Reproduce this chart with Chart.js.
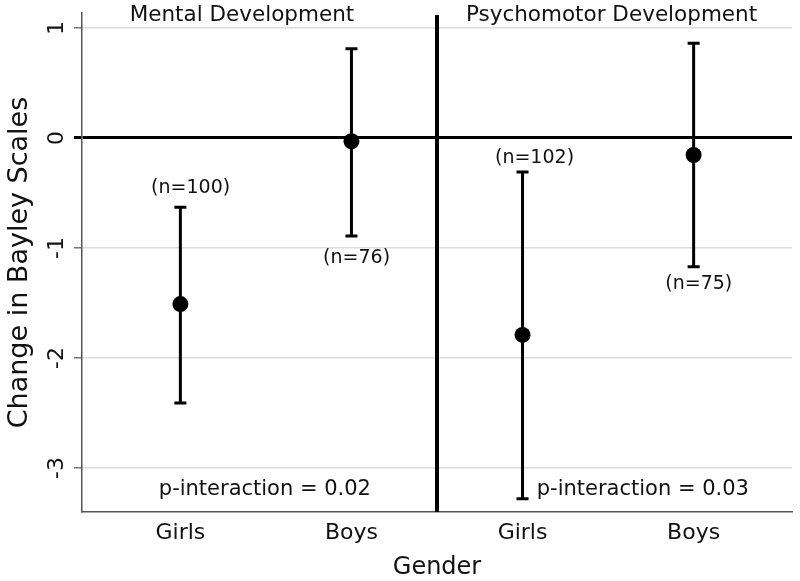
<!DOCTYPE html>
<html>
<head>
<meta charset="utf-8">
<script src="https://cdn.jsdelivr.net/npm/chart.js@4.4.1/dist/chart.umd.min.js"></script>
<style>
  html, body { margin: 0; padding: 0; background: #fff; }
  #wrap { width: 800px; height: 581px; }
</style>
</head>
<body>
<div id="wrap"><canvas id="bayleyChart"></canvas></div>
<script>
// Groups along the x axis (two panels, girls/boys in each)
const groupPositions = [1, 2, 3, 4];
const groupLabels = ["Girls", "Boys", "Girls", "Boys"];

// Point estimates and confidence limits
const estimates = [-1.51, -0.03, -1.79, -0.155];
const ciLower = [-2.41, -0.89, -3.28, -1.17];
const ciUpper = [-0.63, 0.81, -0.31, 0.86];
const sampleSizes = ["(n=100)", "(n=76)", "(n=102)", "(n=75)"];

const yTickValues = [-3, -2, -1, 0, 1];
const panelTitles = ["Mental Development", "Psychomotor Development"];
const interactionLabels = ["p-interaction = 0.02", "p-interaction = 0.03"];

// Where the text annotations sit, in data units
const panelDivider = 2.5;
const sampleSizePos = [[1.06, -0.455], [2.03, -1.09], [3.07, -0.18], [4.03, -1.33]];
const panelTitlePos = [[1.36, 1.066], [3.52, 1.066]];
const interactionPos = [[1.494, -3.2], [3.703, -3.2]];

const FONT = "'DejaVu Sans', sans-serif";
const TEXT_COLOR = "#111";

// Divider, error bars and texts drawn under the points
const annotationsPlugin = {
  id: "annotations",
  beforeDatasetsDraw(chart) {
    const { ctx, chartArea, scales: { x, y } } = chart;
    ctx.save();

    // thick vertical line between the two panels
    const dx = x.getPixelForValue(panelDivider);
    ctx.strokeStyle = "#000";
    ctx.lineWidth = 4;
    ctx.beginPath();
    ctx.moveTo(dx, chartArea.top + 2);
    ctx.lineTo(dx, chartArea.bottom);
    ctx.stroke();

    // error bars with caps
    ctx.lineWidth = 3;
    groupPositions.forEach((g, i) => {
      const px = x.getPixelForValue(g);
      const top = y.getPixelForValue(ciUpper[i]);
      const bot = y.getPixelForValue(ciLower[i]);
      ctx.beginPath();
      ctx.moveTo(px, top);
      ctx.lineTo(px, bot);
      ctx.moveTo(px - 6, top);
      ctx.lineTo(px + 6, top);
      ctx.moveTo(px - 6, bot);
      ctx.lineTo(px + 6, bot);
      ctx.stroke();
    });

    ctx.fillStyle = TEXT_COLOR;
    ctx.textAlign = "center";

    // sample size labels
    ctx.font = "19px " + FONT;
    ctx.textBaseline = "middle";
    sampleSizes.forEach((txt, i) => {
      ctx.fillText(txt, x.getPixelForValue(sampleSizePos[i][0]), y.getPixelForValue(sampleSizePos[i][1]));
    });

    // p-interaction labels
    ctx.font = "21px " + FONT;
    interactionLabels.forEach((txt, i) => {
      ctx.fillText(txt, x.getPixelForValue(interactionPos[i][0]), y.getPixelForValue(interactionPos[i][1]));
    });

    // panel titles
    ctx.font = "21.5px " + FONT;
    ctx.textBaseline = "alphabetic";
    panelTitles.forEach((txt, i) => {
      ctx.fillText(txt, x.getPixelForValue(panelTitlePos[i][0]), y.getPixelForValue(panelTitlePos[i][1]));
    });

    ctx.restore();
  }
};

const ctx = document.getElementById("bayleyChart");
if (!ctx) {
  console.error("Chart canvas not found");
} else if (typeof Chart !== "undefined") {
  new Chart(ctx.getContext("2d"), {
    type: "scatter",
    data: {
      datasets: [
        {
          data: groupPositions.map((g, i) => ({ x: g, y: estimates[i] })),
          pointRadius: 8,
          pointHoverRadius: 8,
          backgroundColor: "#000",
          borderColor: "#000",
          borderWidth: 0,
        },
      ],
    },
    options: {
      responsive: true,
      maintainAspectRatio: false,
      animation: false,
      layout: { padding: { top: 13, right: 4, left: 0, bottom: 0 } },
      plugins: {
        legend: { display: false },
        tooltip: { enabled: false },
      },
      scales: {
        x: {
          type: "linear",
          min: 0.425,
          max: 4.575,
          afterBuildTicks: (scale) => {
            scale.ticks = groupPositions.map((v) => ({ value: v }));
          },
          afterFit: (scale) => {
            scale.height = 69;
            scale.paddingLeft = 0;
            scale.paddingRight = 0;
          },
          ticks: {
            autoSkip: false,
            maxRotation: 0,
            padding: 8,
            color: TEXT_COLOR,
            font: { family: FONT, size: 22 },
            callback: (value, index) => groupLabels[index],
          },
          grid: { display: false, drawTicks: false },
          border: { display: true, color: "#555", width: 1.5 },
          title: {
            display: true,
            text: "Gender",
            color: TEXT_COLOR,
            font: { family: FONT, size: 24, lineHeight: 1 },
            padding: { top: 0, bottom: 1 },
          },
        },
        y: {
          min: -3.4,
          max: 1.136,
          afterBuildTicks: (scale) => {
            scale.ticks = yTickValues.map((v) => ({ value: v }));
          },
          afterFit: (scale) => {
            scale.width = 82;
            scale.paddingTop = 0;
            scale.paddingBottom = 0;
          },
          ticks: {
            minRotation: 90,
            maxRotation: 90,
            crossAlign: "center",
            padding: 6,
            color: TEXT_COLOR,
            font: { family: FONT, size: 22 },
            callback: (value) => String(value),
          },
          grid: {
            color: (c) => (c.tick && c.tick.value === 0 ? "#000" : "#dcdcdc"),
            lineWidth: (c) => (c.tick && c.tick.value === 0 ? 3 : 1.5),
            tickColor: (c) => (c.tick && c.tick.value === 0 ? "#000" : "#777"),
            tickLength: 8,
          },
          border: { display: true, color: "#555", width: 1.5 },
          title: {
            display: true,
            text: "Change in Bayley Scales",
            color: TEXT_COLOR,
            font: { family: FONT, size: 27, lineHeight: 1 },
            padding: { top: 6, bottom: 0 },
          },
        },
      },
    },
    plugins: [annotationsPlugin],
  });
} else {
  console.warn("Chart.js is not loaded; skipping chart initialization");
}
</script>
</body>
</html>
